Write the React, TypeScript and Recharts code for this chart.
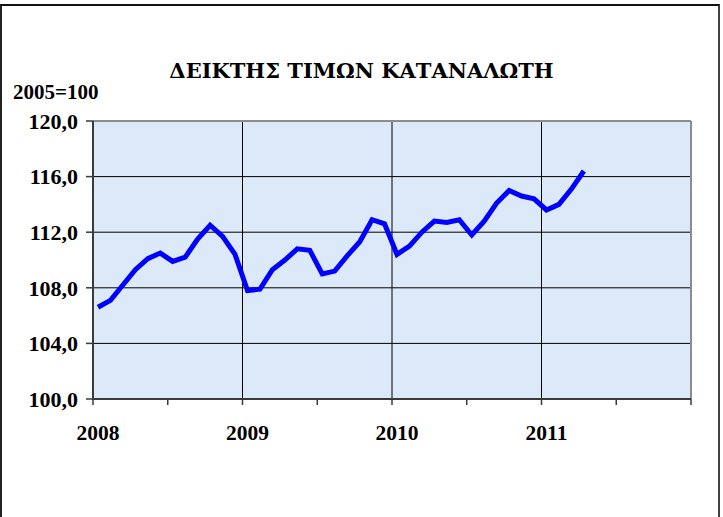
import React from "react";
import {
  LineChart,
  Line,
  XAxis,
  YAxis,
  CartesianGrid,
  ReferenceLine,
} from "recharts";

// monthly CPI, Jan 2008 .. Apr 2011 (2005=100)
const months = [
  "2008-01", "2008-02", "2008-03", "2008-04", "2008-05", "2008-06",
  "2008-07", "2008-08", "2008-09", "2008-10", "2008-11", "2008-12",
  "2009-01", "2009-02", "2009-03", "2009-04", "2009-05", "2009-06",
  "2009-07", "2009-08", "2009-09", "2009-10", "2009-11", "2009-12",
  "2010-01", "2010-02", "2010-03", "2010-04", "2010-05", "2010-06",
  "2010-07", "2010-08", "2010-09", "2010-10", "2010-11", "2010-12",
  "2011-01", "2011-02", "2011-03", "2011-04",
];
const cpi = [
  106.6, 107.1, 108.2, 109.3, 110.1, 110.5, 109.9, 110.2, 111.5, 112.5, 111.7, 110.4,
  107.8, 107.9, 109.3, 110.0, 110.8, 110.7, 109.0, 109.2, 110.3, 111.3, 112.9, 112.6,
  110.4, 111.0, 112.0, 112.8, 112.7, 112.9, 111.8, 112.8, 114.1, 115.0, 114.6, 114.4,
  113.6, 114.0, 115.1, 116.4,
];
const yearLabels = ["2008", "2009", "2010", "2011"];
const yTicks = [100, 104, 108, 112, 116, 120];
const xTicks = [0, 6, 12, 18, 24, 30, 36, 42, 48];

// x = months since Jan 2008, point placed inside its month
const data = months.map((m, i) => ({ m, t: i + 0.4, v: cpi[i] }));

const FONT = "'Liberation Serif', 'Times New Roman', serif";
const TITLE_FONT = "'DejaVu Serif', 'Liberation Serif', serif";

const YTick = (props: any) => {
  const { x, y, payload } = props;
  return (
    <text
      x={x - 6}
      y={y}
      dy="0.35em"
      textAnchor="end"
      fontFamily={FONT}
      fontWeight="bold"
      fontSize={22}
      fill="#000"
    >
      {payload.value.toFixed(1).replace(".", ",")}
    </text>
  );
};

const XTick = (props: any) => {
  const { x, y, payload } = props;
  const idx = payload.value / 12;
  if (payload.value % 12 !== 0 || idx >= yearLabels.length) return null;
  return (
    <text
      x={x + 5}
      y={y + 18}
      dy="0.71em"
      textAnchor="middle"
      fontFamily={FONT}
      fontWeight="bold"
      fontSize={21.5}
      fill="#000"
    >
      {yearLabels[idx]}
    </text>
  );
};

export default function App() {
  return (
    <div
      style={{
        position: "absolute",
        left: 0,
        top: 0,
        width: 723,
        height: 517,
        overflow: "hidden",
        background: "#fff",
      }}
    >
      <div
        style={{
          position: "absolute",
          left: 0,
          top: 4,
          width: 716,
          height: 600,
          borderLeft: "2px solid #222",
          borderTop: "2px solid #111",
          borderRight: "2px solid #404040",
        }}
      />
      <div
        style={{
          position: "absolute",
          left: 0,
          width: 723,
          top: 57,
          textAlign: "center",
          fontFamily: TITLE_FONT,
          fontWeight: "bold",
          fontSize: 21,
          lineHeight: "28px",
        }}
      >
        ΔΕΙΚΤΗΣ ΤΙΜΩΝ ΚΑΤΑΝΑΛΩΤΗ
      </div>
      <div
        style={{
          position: "absolute",
          left: 13,
          top: 79,
          fontFamily: FONT,
          fontWeight: "bold",
          fontSize: 21,
          lineHeight: "26px",
        }}
      >
        2005=100
      </div>
      <LineChart
        width={723}
        height={517}
        data={data}
        margin={{ top: 121, right: 32, bottom: 58, left: 0 }}
        style={{ position: "absolute", left: 0, top: 0 }}
      >
        <CartesianGrid
          vertical={false}
          stroke="#000"
          strokeWidth={1}
          fill="#dce9f8"
          fillOpacity={1}
        />
        <XAxis
          type="number"
          dataKey="t"
          domain={[0, 48]}
          ticks={xTicks}
          interval={0}
          height={60}
          tickSize={6}
          tick={<XTick />}
          axisLine={{ stroke: "#3a3a3a", strokeWidth: 2 }}
          tickLine={{ stroke: "#3a3a3a", strokeWidth: 1.5 }}
        />
        <YAxis
          type="number"
          domain={[100, 120]}
          ticks={yTicks}
          interval={0}
          width={93}
          tickSize={7}
          tick={<YTick />}
          axisLine={{ stroke: "#3a3a3a", strokeWidth: 2 }}
          tickLine={{ stroke: "#3a3a3a", strokeWidth: 1.5 }}
        />
        {[12, 24, 36].map((v) => (
          <ReferenceLine key={v} x={v} stroke="#000" strokeWidth={1} />
        ))}
        <ReferenceLine y={120} stroke="#8c8c8c" strokeWidth={2} />
        <ReferenceLine x={48} stroke="#8c8c8c" strokeWidth={2} />
        <Line
          type="linear"
          dataKey="v"
          stroke="#0000ff"
          strokeWidth={5}
          dot={false}
          activeDot={false}
          isAnimationActive={false}
        />
      </LineChart>
    </div>
  );
}
